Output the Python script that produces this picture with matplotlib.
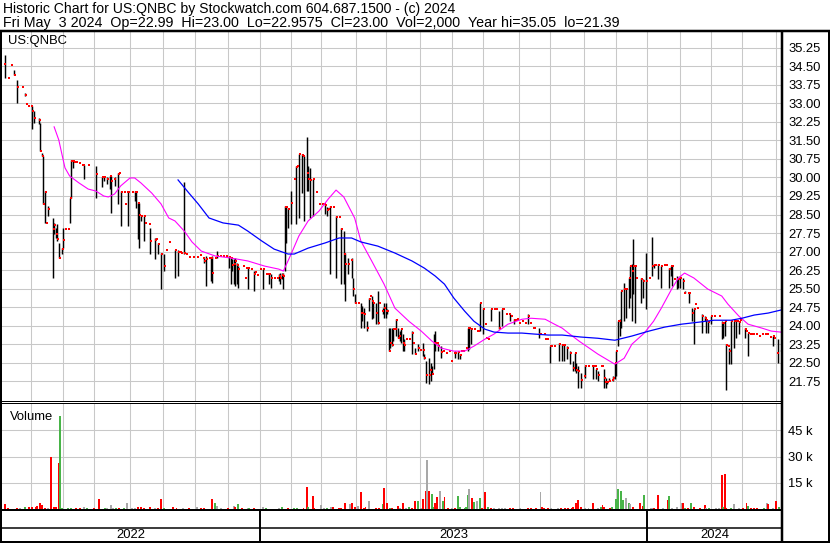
import matplotlib
matplotlib.use('Agg')
import matplotlib.pyplot as plt
from matplotlib.lines import Line2D
import numpy as np
import pandas as pd

plt.rcParams['font.family'] = ['Liberation Sans', 'DejaVu Sans']

# ---------- data (session index since 2022-05-03)

holidays = ['2022-05-30', '2022-06-20', '2022-07-04', '2022-09-05', '2022-11-24',
            '2022-12-26', '2023-01-02', '2023-01-16', '2023-02-20', '2023-04-07',
            '2023-05-29', '2023-06-19', '2023-07-04', '2023-09-04', '2023-11-23',
            '2023-12-25', '2024-01-01', '2024-01-15', '2024-02-19', '2024-03-29']

sess = [2, 4, 6, 8, 10, 13, 15, 16, 17, 19, 20, 21, 24, 25, 26, 27, 28, 29, 30, 33,
        34, 35, 36, 37, 39, 40, 41, 43, 44, 45, 46, 47, 48, 50, 52, 53, 56, 61, 65, 66,
        68, 70, 71, 73, 75, 76, 77, 79, 80, 81, 82, 84, 86, 87, 88, 89, 90, 92, 93, 95,
        96, 99, 100, 101, 103, 105, 106, 108, 112, 114, 115, 116, 118, 119, 121, 124, 126, 128, 130, 131,
        132, 134, 135, 136, 138, 139, 141, 143, 145, 147, 148, 149, 150, 151, 152, 153, 156, 157, 158, 159,
        161, 163, 164, 165, 167, 169, 171, 172, 173, 174, 176, 178, 179, 180, 181, 182, 183, 184, 185, 187,
        189, 190, 191, 192, 194, 195, 197, 198, 199, 201, 203, 205, 207, 208, 209, 210, 211, 212, 214, 216,
        218, 219, 221, 222, 224, 226, 227, 228, 230, 232, 233, 234, 236, 237, 238, 239, 240, 242, 243, 244,
        246, 247, 248, 249, 250, 251, 252, 253, 254, 255, 256, 257, 258, 259, 260, 261, 263, 265, 266, 267,
        269, 270, 272, 273, 274, 276, 277, 278, 279, 280, 281, 282, 284, 285, 287, 289, 290, 292, 293, 295,
        296, 297, 298, 300, 301, 302, 303, 305, 307, 308, 309, 311, 312, 313, 314, 316, 318, 319, 321, 323,
        324, 326, 328, 329, 331, 332, 333, 334, 336, 338, 340, 341, 343, 344, 347, 348, 350, 351, 352, 354,
        355, 357, 360, 362, 363, 365, 367, 369, 370, 371, 372, 374, 376, 377, 379, 381, 382, 383, 384, 385,
        387, 388, 389, 390, 391, 392, 394, 395, 396, 397, 398, 399, 400, 402, 403, 405, 406, 407, 408, 409,
        410, 413, 414, 416, 418, 420, 421, 422, 424, 426, 428, 429, 431, 432, 433, 434, 436, 437, 438, 440,
        441, 443, 444, 446, 447, 448, 449, 452, 454, 455, 456, 458, 460, 463, 465, 466, 467, 468, 469, 470,
        471, 473, 474, 475, 476, 477, 480, 481, 482, 483, 484, 485, 487, 489, 491, 493, 494, 496, 498, 499,
        501, 503]

high = [34.97, 34.03, 34.56, 34.36, 33.95, 33.67, 33.43, 32.98, 32.90, 32.90, 32.90, 32.70, 32.41, 32.21, 30.99, 30.87, 29.45, 28.16, 28.85, 28.36,
        28.16, 27.95, 28.12, 27.35, 27.14, 27.95, 27.91, 27.91, 29.17, 30.71, 30.71, 30.63, 30.63, 30.59, 30.51, 30.51, 30.51, 30.47, 30.02, 30.02,
        30.02, 30.06, 30.06, 30.02, 30.18, 30.18, 29.45, 29.41, 28.93, 29.41, 29.45, 29.41, 29.45, 29.45, 28.97, 28.97, 28.44, 28.44, 28.16, 28.12,
        27.95, 27.55, 27.51, 27.35, 26.94, 26.90, 27.06, 27.39, 27.06, 27.06, 26.98, 26.94, 29.80, 26.90, 26.78, 26.78, 26.78, 26.86, 26.74, 26.74,
        26.82, 26.74, 26.74, 26.82, 26.74, 27.02, 26.82, 26.82, 26.82, 26.82, 26.74, 26.70, 26.70, 26.74, 26.53, 26.41, 26.41, 25.93, 26.33, 26.33,
        26.29, 26.21, 26.17, 26.05, 26.29, 26.29, 26.09, 26.09, 26.09, 26.09, 25.93, 25.93, 26.09, 26.13, 26.13, 26.13, 28.85, 28.85, 28.76, 29.45,
        29.94, 30.47, 30.47, 30.95, 30.95, 30.87, 31.64, 30.47, 30.39, 29.94, 29.41, 28.93, 28.93, 28.93, 28.93, 28.81, 28.72, 28.85, 28.81, 28.44,
        28.40, 27.95, 27.83, 26.94, 26.74, 26.74, 25.93, 25.28, 24.91, 24.91, 24.79, 24.71, 24.18, 25.12, 25.20, 25.20, 24.91, 24.91, 25.40, 24.91,
        24.71, 24.91, 24.91, 24.67, 23.90, 23.90, 23.90, 23.86, 23.86, 24.26, 23.90, 23.78, 23.86, 23.66, 23.45, 23.45, 23.45, 23.78, 23.29, 23.09,
        23.25, 23.01, 23.29, 22.85, 22.56, 22.68, 22.48, 22.36, 23.66, 23.78, 23.29, 23.25, 23.17, 22.97, 22.89, 22.97, 22.56, 22.89, 22.97, 22.97,
        22.85, 22.97, 22.97, 23.09, 23.90, 23.90, 23.90, 23.86, 23.78, 23.78, 24.91, 24.71, 24.06, 23.49, 23.45, 24.67, 24.67, 24.67, 24.59, 24.67,
        24.67, 24.47, 24.47, 24.39, 24.26, 24.22, 24.26, 24.10, 24.18, 24.10, 24.47, 24.10, 23.90, 23.90, 23.90, 23.66, 23.66, 23.45, 23.45, 23.17,
        23.17, 23.17, 23.29, 23.25, 23.25, 23.17, 22.97, 22.56, 22.89, 22.48, 22.36, 22.07, 21.95, 22.36, 22.36, 22.36, 22.36, 22.36, 22.24, 22.16,
        22.36, 22.36, 22.24, 21.87, 21.75, 21.87, 21.79, 21.95, 22.48, 22.97, 24.18, 24.26, 25.40, 25.72, 25.48, 25.93, 26.41, 26.49, 27.51, 26.41,
        25.93, 25.93, 25.89, 26.94, 25.93, 27.59, 26.49, 26.45, 26.49, 26.41, 26.45, 26.45, 26.33, 26.41, 26.41, 25.89, 26.01, 25.93, 26.01, 25.93,
        25.40, 25.32, 25.32, 24.71, 24.67, 24.87, 24.71, 24.47, 24.39, 24.26, 24.18, 24.39, 24.39, 24.39, 24.18, 24.10, 24.18, 23.25, 23.17, 23.09,
        24.18, 24.18, 24.18, 24.18, 24.18, 24.22, 23.90, 23.78, 23.70, 23.66, 23.66, 23.66, 23.66, 23.58, 23.66, 23.66, 23.66, 23.54, 23.58, 23.49,
        23.45, 23.00]

low = [34.03, 34.03, 34.56, 34.16, 33.02, 33.67, 33.30, 32.98, 32.90, 32.90, 31.97, 32.21, 32.17, 31.07, 30.87, 28.93, 28.16, 28.16, 28.44, 25.93,
       27.71, 27.55, 27.43, 26.74, 26.90, 27.14, 27.91, 27.91, 28.16, 29.17, 30.39, 30.63, 30.63, 30.59, 30.51, 29.94, 30.51, 29.17, 29.62, 29.86,
       29.74, 29.53, 28.56, 29.66, 28.93, 30.18, 28.03, 29.41, 28.93, 29.41, 28.03, 29.41, 29.05, 28.76, 27.51, 27.14, 28.24, 27.43, 28.16, 28.12,
       26.90, 26.70, 27.51, 26.90, 25.48, 26.21, 27.06, 27.39, 25.93, 26.01, 26.98, 26.94, 26.90, 26.90, 26.78, 26.78, 26.78, 26.86, 26.74, 26.53,
       25.60, 26.74, 25.81, 25.72, 26.74, 26.74, 26.82, 26.82, 26.82, 26.33, 25.68, 26.21, 25.68, 25.60, 25.68, 25.52, 26.41, 25.93, 26.33, 25.48,
       26.29, 25.40, 26.17, 26.05, 26.29, 25.48, 26.09, 26.09, 25.68, 25.52, 25.93, 25.93, 25.81, 25.68, 25.89, 25.48, 26.21, 27.35, 27.95, 28.12,
       29.94, 28.12, 30.47, 28.36, 29.37, 28.24, 29.45, 29.45, 28.36, 28.44, 29.41, 28.93, 28.93, 28.93, 28.52, 28.44, 28.72, 26.09, 28.81, 25.93,
       28.40, 25.68, 25.68, 24.99, 26.09, 25.93, 25.20, 24.91, 24.91, 23.90, 24.18, 23.90, 23.78, 24.59, 25.20, 24.26, 24.30, 24.06, 24.06, 24.91,
       24.47, 24.30, 24.30, 24.47, 22.97, 23.09, 23.17, 23.37, 23.86, 23.58, 23.49, 23.37, 23.29, 22.97, 22.97, 23.45, 23.45, 22.85, 23.29, 22.85,
       22.97, 23.01, 22.77, 22.64, 21.67, 21.63, 21.75, 22.03, 22.24, 22.97, 23.29, 22.97, 22.68, 22.97, 22.89, 22.97, 22.56, 22.89, 22.68, 22.64,
       22.64, 22.97, 22.97, 23.09, 22.97, 23.05, 23.25, 23.86, 23.78, 23.78, 23.78, 23.66, 24.06, 23.49, 23.45, 24.18, 24.67, 24.67, 23.86, 23.98,
       24.67, 24.47, 24.18, 24.39, 24.06, 24.22, 24.26, 24.10, 24.18, 24.10, 24.06, 24.10, 23.90, 23.90, 23.49, 23.66, 23.66, 23.45, 23.45, 22.48,
       23.17, 23.17, 22.56, 22.56, 22.56, 22.64, 22.44, 22.16, 22.16, 22.07, 21.47, 21.47, 21.95, 21.87, 22.36, 22.36, 21.83, 22.36, 21.83, 21.75,
       22.36, 22.36, 21.47, 21.47, 21.63, 21.75, 21.79, 21.75, 21.83, 21.95, 23.17, 23.58, 23.90, 24.18, 24.30, 24.71, 25.12, 24.18, 25.28, 24.10,
       25.93, 24.91, 25.12, 24.67, 25.93, 26.01, 26.33, 26.45, 25.89, 25.52, 26.45, 26.45, 25.52, 26.01, 25.60, 25.89, 25.48, 25.52, 25.52, 25.48,
       25.32, 25.32, 24.91, 24.18, 23.25, 24.87, 24.71, 23.70, 24.18, 23.70, 23.70, 24.06, 24.39, 24.39, 23.45, 23.49, 23.58, 21.39, 23.17, 22.44,
       22.44, 23.09, 23.49, 24.18, 23.66, 24.22, 23.49, 23.78, 22.77, 23.66, 23.66, 23.66, 23.66, 23.58, 23.66, 23.66, 23.66, 23.54, 23.17, 23.49,
       22.48, 22.96]

close = [34.60, 34.03, 34.56, 34.16, 33.67, 33.67, 33.34, 32.98, 32.90, 32.90, 32.70, 32.41, 32.33, 31.07, 30.87, 28.93, 29.41, 28.16, 28.72, 27.91,
         28.07, 27.71, 27.51, 26.74, 27.10, 27.47, 27.91, 27.91, 29.17, 30.67, 30.67, 30.63, 30.63, 30.59, 30.51, 30.51, 30.51, 30.14, 30.02, 30.02,
         29.94, 30.06, 29.86, 29.94, 30.14, 30.18, 29.41, 29.41, 28.93, 29.41, 29.41, 29.41, 29.41, 29.41, 28.97, 28.50, 28.44, 28.44, 28.16, 28.12,
         27.43, 27.47, 27.51, 27.31, 26.90, 26.41, 27.06, 27.39, 27.06, 26.98, 26.98, 26.94, 26.94, 26.90, 26.78, 26.78, 26.78, 26.86, 26.74, 26.62,
         26.70, 26.74, 26.74, 26.13, 26.74, 26.82, 26.82, 26.82, 26.82, 26.78, 26.74, 26.45, 26.50, 26.60, 26.45, 26.30, 26.41, 25.93, 26.33, 26.33,
         26.29, 26.10, 26.17, 26.05, 26.29, 26.29, 26.09, 26.09, 26.09, 25.93, 25.93, 25.93, 26.00, 25.93, 26.05, 26.00, 28.81, 28.81, 28.72, 28.97,
         29.94, 30.43, 30.47, 30.95, 30.90, 30.87, 30.20, 29.94, 29.90, 29.94, 29.41, 28.93, 28.93, 28.93, 28.90, 28.70, 28.72, 28.81, 28.81, 28.40,
         28.40, 27.91, 26.90, 26.50, 26.50, 26.66, 25.50, 24.91, 24.91, 24.50, 24.50, 24.47, 23.90, 25.07, 25.20, 25.00, 24.91, 24.50, 24.10, 24.91,
         24.59, 24.70, 24.60, 24.60, 22.97, 23.30, 23.21, 23.86, 23.86, 24.22, 23.49, 23.60, 23.86, 23.30, 23.20, 23.45, 23.45, 23.70, 23.29, 22.85,
         23.10, 23.01, 23.01, 22.70, 22.00, 22.00, 22.20, 22.03, 23.30, 23.30, 23.29, 23.17, 22.93, 22.97, 22.89, 22.97, 22.56, 22.89, 22.90, 22.93,
         22.80, 22.97, 22.97, 23.09, 23.90, 23.90, 23.86, 23.86, 23.78, 23.78, 24.91, 24.67, 24.06, 23.49, 23.45, 24.67, 24.67, 24.67, 23.90, 24.67,
         24.67, 24.47, 24.47, 24.39, 24.22, 24.22, 24.26, 24.10, 24.18, 24.10, 24.39, 24.10, 23.90, 23.90, 23.66, 23.66, 23.66, 23.45, 23.45, 23.17,
         23.17, 23.17, 23.25, 23.20, 23.20, 23.10, 22.90, 22.30, 22.89, 22.20, 22.16, 21.80, 21.95, 22.36, 22.36, 22.36, 22.36, 22.36, 22.24, 22.00,
         22.36, 22.36, 21.87, 21.71, 21.71, 21.75, 21.79, 21.87, 22.48, 22.97, 24.18, 24.18, 25.40, 25.50, 25.48, 25.93, 26.41, 26.20, 26.40, 26.41,
         25.93, 25.89, 25.81, 25.81, 25.93, 26.40, 26.45, 26.45, 26.45, 26.41, 26.45, 26.45, 26.30, 26.41, 26.41, 25.89, 25.90, 25.89, 25.93, 25.80,
         25.32, 25.32, 25.32, 24.50, 24.67, 24.87, 24.71, 24.39, 24.30, 24.22, 24.14, 24.39, 24.39, 24.39, 24.10, 24.10, 24.18, 23.20, 23.17, 22.97,
         24.18, 24.18, 24.18, 24.18, 24.14, 24.22, 23.86, 23.78, 23.70, 23.66, 23.66, 23.66, 23.66, 23.58, 23.66, 23.66, 23.66, 23.54, 23.58, 23.49,
         22.89, 23.00]

# moving averages
ma_fast_s = [34, 37, 39, 41, 44, 50, 56, 61, 66, 69, 73, 77, 83, 86, 90, 97, 103, 108, 112, 118,
             123, 129, 138, 148, 159, 170, 179, 182, 187, 192, 198, 205, 211, 216, 221, 228, 232, 239, 247, 254,
             263, 271, 278, 284, 292, 299, 305, 312, 318, 327, 336, 342, 351, 357, 362, 366, 373, 385, 396, 402,
             407, 415, 421, 426, 433, 437, 441, 447, 456, 465, 469, 476, 482, 491, 497, 503]
ma_fast_v = [32.05, 31.52, 30.95, 30.39, 30.06, 29.78, 29.53, 29.45, 29.25, 29.21, 29.33, 29.66, 29.98, 29.98, 29.78, 29.37, 28.93, 28.36, 28.24, 27.83,
             27.39, 27.02, 26.82, 26.74, 26.62, 26.41, 26.29, 26.21, 26.90, 27.63, 28.24, 28.64, 29.13, 29.49, 29.21, 28.36, 27.43, 26.62, 25.68, 24.71,
             24.18, 23.78, 23.37, 23.09, 22.97, 22.97, 23.17, 23.45, 23.66, 24.06, 24.26, 24.30, 24.26, 24.06, 23.90, 23.70, 23.37, 22.85, 22.44, 22.68,
             23.25, 23.70, 24.18, 24.71, 25.52, 25.93, 26.13, 25.93, 25.48, 25.20, 24.87, 24.39, 24.06, 23.90, 23.78, 23.74]

ma_slow_s = [114, 121, 127, 134, 143, 153, 159, 168, 176, 185, 189, 198, 209, 218, 226, 232, 243, 254, 265, 273,
             280, 286, 292, 299, 305, 312, 318, 327, 336, 344, 353, 362, 374, 385, 396, 407, 418, 428, 439, 450,
             460, 471, 478, 486, 495, 503]
ma_slow_v = [29.90, 29.37, 28.93, 28.36, 28.16, 28.07, 27.83, 27.43, 27.10, 26.90, 26.90, 27.14, 27.35, 27.55, 27.55, 27.39, 27.22, 26.94, 26.62, 26.33,
             26.01, 25.68, 25.12, 24.59, 24.18, 23.86, 23.74, 23.70, 23.70, 23.66, 23.62, 23.62, 23.54, 23.49, 23.41, 23.58, 23.78, 23.94, 24.06, 24.14,
             24.22, 24.22, 24.30, 24.43, 24.51, 24.63]

# volume in thousands of shares, colour: r = down, g = up, n = unchanged
vol_s = [2, 4, 10, 12, 15, 18, 20, 22, 23, 25, 26, 28, 30, 32, 34, 35, 37, 38, 39, 43,
         45, 48, 51, 53, 55, 60, 63, 67, 68, 71, 72, 74, 76, 79, 81, 84, 86, 88, 90, 92,
         96, 99, 101, 103, 105, 111, 113, 117, 121, 126, 129, 131, 136, 138, 139, 142, 146, 150, 151, 153,
         155, 159, 160, 163, 169, 171, 179, 181, 185, 189, 191, 195, 197, 198, 201, 202, 206, 208, 210, 213,
         214, 218, 219, 222, 225, 226, 228, 230, 232, 234, 235, 237, 242, 244, 246, 247, 249, 251, 252, 256,
         257, 259, 261, 263, 265, 267, 269, 271, 272, 274, 275, 276, 278, 279, 280, 281, 283, 285, 286, 288,
         291, 293, 295, 296, 299, 300, 301, 302, 304, 305, 307, 309, 310, 312, 314, 316, 318, 321, 323, 325,
         328, 330, 335, 340, 342, 345, 348, 349, 350, 353, 355, 359, 361, 364, 366, 368, 369, 371, 372, 374,
         377, 379, 382, 385, 387, 388, 389, 393, 394, 397, 398, 400, 401, 403, 405, 406, 408, 412, 414, 415,
         419, 420, 421, 424, 427, 430, 431, 433, 436, 439, 440, 441, 443, 445, 447, 451, 454, 455, 457, 461,
         463, 465, 466, 467, 468, 471, 473, 476, 479, 481, 482, 484, 486, 488, 492, 494, 495, 498, 500, 502]
vol_k = [2.8, 0.7, 0.8, 0.7, 0.9, 0.9, 1.2, 1.2, 1.8, 3.7, 2.2, 0.6, 0.6, 29.7, 0.9, 0.9, 26.2, 53.4, 0.6, 0.7,
         0.7, 0.7, 0.7, 1.4, 0.7, 0.7, 5.7, 0.6, 0.6, 2.2, 0.6, 0.7, 0.6, 0.7, 3.2, 0.7, 0.7, 1.4, 1.4, 0.7,
         1.4, 0.7, 0.7, 5.7, 0.6, 0.9, 0.6, 0.7, 0.7, 1.4, 0.6, 0.7, 5.7, 3.2, 1.8, 0.6, 0.7, 1.8, 0.9, 2.6,
         0.7, 0.6, 0.7, 0.6, 0.9, 0.6, 0.6, 1.4, 0.7, 0.6, 0.6, 0.6, 12.4, 1.4, 7.6, 0.6, 2.4, 0.6, 0.6, 1.4,
         1.4, 0.7, 0.7, 3.2, 2.8, 3.7, 0.9, 1.8, 9.5, 0.6, 0.9, 4.3, 0.6, 0.6, 2.8, 11.8, 3.2, 0.6, 0.6, 2.0,
         0.6, 3.2, 0.7, 0.9, 0.6, 4.3, 4.7, 0.6, 5.7, 10.5, 28.2, 10.5, 8.6, 1.4, 3.7, 6.6, 10.5, 4.3, 6.6, 0.6,
         0.6, 0.6, 7.2, 1.4, 0.6, 1.4, 8.2, 11.3, 6.3, 4.1, 4.3, 6.3, 0.6, 9.5, 0.9, 0.6, 0.6, 0.6, 0.6, 0.6,
         0.6, 0.6, 0.6, 0.6, 0.6, 0.6, 9.5, 1.4, 0.6, 0.6, 0.6, 0.6, 0.6, 0.6, 0.6, 0.6, 1.4, 3.7, 5.3, 0.9,
         0.6, 0.6, 3.7, 0.6, 1.4, 2.2, 1.4, 0.6, 1.4, 5.7, 11.3, 10.5, 4.9, 6.1, 3.7, 2.6, 1.4, 3.2, 1.8, 8.0,
         0.6, 0.6, 0.6, 7.8, 0.6, 5.1, 7.2, 0.6, 0.9, 3.7, 3.7, 0.6, 0.6, 3.2, 1.4, 0.6, 2.2, 0.6, 0.6, 0.6,
         0.6, 19.3, 0.9, 20.3, 0.6, 0.6, 2.6, 0.6, 0.6, 3.2, 1.8, 0.6, 0.6, 0.6, 0.6, 3.2, 2.6, 0.6, 4.3, 0.9]
vol_c = ''.join(['rrrngrrrrrrrnrrrrggg', 'grrngrrgnnngrgnnnrrr',
                 'rnrrgrrnrnrrrgnnrnrg', 'rngrngngrggrrgrrnngn',
                 'rrrrnrrnrrrnrrgrrgrr', 'nrngrrgnrrnrggrrngrr',
                 'nrgggggnrgngrrgrnnnn', 'rrnrrrnrrrnnrrrrrrrr',
                 'nnrngrrrgggggngnrrrg', 'nnrrnrgnnnrgrgrrrngn',
                 'nrgrrgnnrrgrrrgnrnrg'])

year_labels = ['2022', '2023', '2024']
price_ticks = np.arange(21.75, 35.26, 0.75)
vol_ticks = [15, 30, 45]
header1 = 'Historic Chart for US:QNBC by Stockwatch.com 604.687.1500 - (c) 2024'
header2 = ('Fri May  3 2024  Op=22.99  Hi=23.00  Lo=22.9575  Cl=23.00  '
           'Vol=2,000  Year hi=35.05  lo=21.39')

# ---------- layout

W, H = 830, 543
fig = plt.figure(figsize=(W / 100, H / 100), dpi=100)
fig.patch.set_facecolor('white')

sessions = pd.bdate_range('2022-05-03', '2024-05-03', freq='C', holidays=holidays)
months = sessions.to_period('M')
first = np.flatnonzero(months[1:] != months[:-1]) + 1
month_x = first - 1
year_x = [f - 1 for f in first if sessions[f].month == 1]
xlim = (-0.3, len(sessions) - 0.1)


def px_axes(x0, y0, x1, y1):
    return fig.add_axes([x0 / W, 1 - y1 / H, (x1 - x0) / W, (y1 - y0) / H])


def fline(xs, ys, lw):
    fig.add_artist(Line2D([x / W for x in xs], [1 - y / H for y in ys], color='black',
                          lw=lw * 0.72, transform=fig.transFigure, solid_capstyle='butt'))


grid_kw = dict(color='#c8c8c8', lw=0.75)
fs = 9.4

# price panel
ax = px_axes(1, 31, 782, 400.5)
ax.set_xlim(*xlim)
ax.set_ylim(20.97, 35.93)
ax.set_yticks(price_ticks)
ax.set_yticklabels(['%.2f' % t for t in price_ticks])
ax.yaxis.tick_right()
ax.tick_params(axis='y', length=0, pad=4.5, labelsize=fs)
ax.set_xticks(month_x)
ax.tick_params(axis='x', length=0, labelbottom=False)
ax.grid(True, **grid_kw)
ax.set_axisbelow(True)
for sp in ax.spines.values():
    sp.set_visible(False)

sx = np.array(sess)
ax.vlines(sx, low, high, color='black', lw=1.05, zorder=3)
ax.plot(sx + 0.6, close, 's', color='#ff0000', ms=2.0, mew=0, zorder=4)
ax.plot(ma_fast_s, ma_fast_v, color='#ff00ff', lw=0.8, zorder=5)
ax.plot(ma_slow_s, ma_slow_v, color='#0000ff', lw=0.9, zorder=5)
ax.text(0.009, 0.972, 'US:QNBC', transform=ax.transAxes, fontsize=fs, va='center')

# volume panel
axv = px_axes(1, 402.5, 782, 509)
axv.set_xlim(*xlim)
axv.set_ylim(0, 61)
axv.set_yticks(vol_ticks)
axv.set_yticklabels(['%d k' % v for v in vol_ticks])
axv.yaxis.tick_right()
axv.tick_params(axis='y', length=0, pad=4.5, labelsize=fs)
axv.set_xticks(month_x)
axv.tick_params(axis='x', length=0, labelbottom=False)
axv.grid(True, **grid_kw)
axv.set_axisbelow(True)
for sp in axv.spines.values():
    sp.set_visible(False)
cmap = {'r': '#ff0000', 'g': '#48b448', 'n': '#a8a8a8'}
axv.bar(vol_s, vol_k, width=1.25, color=[cmap[c] for c in vol_c], zorder=3)
axv.text(0.011, 0.86, 'Volume', transform=axv.transAxes, fontsize=fs, va='center')

# date rows
for y0, y1 in [(509, 527.5), (527.5, 541.5)]:
    axd = px_axes(1, y0, 782, y1)
    axd.set_xlim(*xlim)
    axd.set_ylim(0, 1)
    axd.axis('off')
    for yx in year_x:
        axd.axvline(yx, color='black', lw=1.4)
    if y0 > 520:
        edges = [xlim[0]] + year_x + [xlim[1]]
        for lab, a, b in zip(year_labels, edges[:-1], edges[1:]):
            axd.text((a + b) / 2, 0.45, lab, ha='center', va='center', fontsize=fs)

# frame lines
fline([0, W], [31, 31], 2.5)
fline([0, 782], [400.5, 400.5], 1)
fline([0, 782], [402.5, 402.5], 1)
fline([0, 782], [509.5, 509.5], 2)
fline([0, 782], [527.5, 527.5], 1.5)
fline([0, W], [541.5, 541.5], 2)
fline([1, 1], [31, 542.5], 2)
fline([782, 782], [31, 542.5], 2.5)
fline([828.5, 828.5], [31, 542.5], 2)

fig.text(3 / W, 1 - 9 / H, header1, fontsize=10.1, va='center')
fig.text(3 / W, 1 - 23 / H, header2, fontsize=10.3, va='center')

fig.savefig('out.png', dpi=100)
